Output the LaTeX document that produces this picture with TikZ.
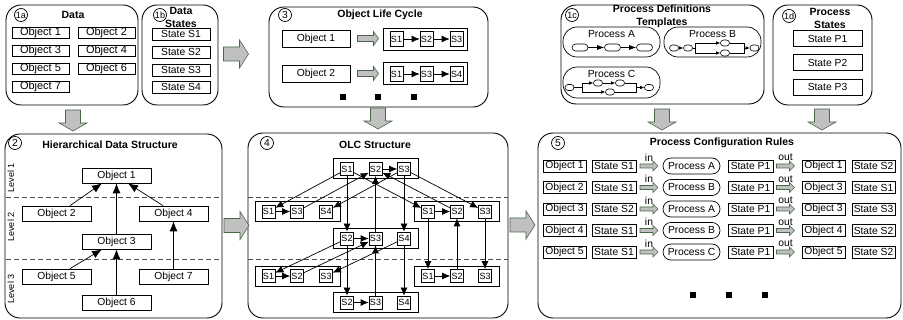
\documentclass[tikz,border=0pt]{standalone}
\usepackage{fontspec}
\setmainfont{Liberation Sans}
\usetikzlibrary{arrows.meta}
\definecolor{garrfill}{RGB}{192,192,192}
\definecolor{garrline}{RGB}{72,104,72}
\newcommand{\txtn}{\fontsize{10.3}{12}\selectfont}
\newcommand{\txtb}{\fontsize{11}{13}\selectfont}
\newcommand{\txts}{\fontsize{9}{10}\selectfont}
\newcommand{\txtt}{\fontsize{10.5}{13}\selectfont\bfseries}

\tikzset{
  garr/.style = {fill=garrfill, draw=garrline, line width=0.6pt},
  bigright/.pic = {\path[garr] (-12,-7) -- (4,-7) -- (4,-14) -- (13,0) -- (4,14) -- (4,7) -- (-12,7) -- cycle;},
  bigdown/.pic = {\path[garr] (-7.5,-11) -- (7.5,-11) -- (7.5,2) -- (14,2) -- (0,10) -- (-14,2) -- (-7.5,2) -- cycle;},
  smallright/.pic = {\path[garr] (-10,-3) -- (6,-3) -- (6,-7) -- (11,0) -- (6,7) -- (6,3) -- (-10,3) -- cycle;},
  tinyright/.pic = {\path[garr] (-9,-2) -- (4,-2) -- (4,-5) -- (9,0) -- (4,5) -- (4,2) -- (-9,2) -- cycle;}
}

\begin{document}
\begin{tikzpicture}[x=1pt, y=-1pt, line width=0.7pt,
    panel/.style = {draw, line width=0.9pt, rounded corners=15pt, inner sep=0pt},
    ttl/.style = {font=\txtt, align=center, inner sep=0pt},
    numc/.style = {draw, circle, inner sep=0pt, minimum size=13pt, font=\txtn},
    obj/.style = {draw, inner sep=0pt, minimum height=12pt, font=\txtn},
    sbox/.style = {draw, inner sep=0pt, minimum width=13pt, minimum height=13pt, font=\txts},
    grp/.style = {draw, inner sep=0pt, minimum width=85pt, minimum height=20pt},
    pill/.style = {draw, inner sep=0pt, rounded corners=8pt, minimum width=57pt, minimum height=16pt, font=\txtn},
    tmpl/.style = {draw, inner sep=0pt, rounded corners=14pt, minimum width=97pt, minimum height=30pt},
    ovl/.style = {draw, line width=0.6pt, inner sep=0pt, rounded corners=3.5pt, minimum width=16pt, minimum height=7pt},
    ovs/.style = {draw, line width=0.6pt, inner sep=0pt, rounded corners=3pt, minimum width=9pt, minimum height=6pt},
    lbl/.style = {inner sep=0pt, font=\txtn},
    sqdot/.style = {fill, inner sep=0pt, minimum size=6pt},
    levelline/.style = {draw=black!70, dash pattern=on 5pt off 3pt},
    arrhds/.style = {-{Latex[length=10pt,width=8pt]}},
    arrolc/.style = {-{Latex[length=8pt,width=7pt]}},
    arrtpl/.style = {-{Latex[length=4pt,width=3.5pt]}, line width=0.6pt}]
\useasboundingbox (0,0) rectangle (903,320);

% 1a data
\node[panel, minimum width=132pt, minimum height=100pt] (p1a) at (72,55) {};
\node[numc, font=\txts] (n1a) at (21,15) {1a};
\node[ttl] (t1a) at (73,15) {Data};
\node[obj, minimum width=57pt, minimum height=11pt, font=\txtb] (d1) at (40.5,33) {Object 1};
\node[obj, minimum width=57pt, minimum height=11pt, font=\txtb] (d2) at (106.5,33) {Object 2};
\node[obj, minimum width=57pt, minimum height=11pt, font=\txtb] (d3) at (40.5,51) {Object 3};
\node[obj, minimum width=57pt, minimum height=11pt, font=\txtb] (d4) at (106.5,51) {Object 4};
\node[obj, minimum width=57pt, minimum height=11pt, font=\txtb] (d5) at (40.5,69) {Object 5};
\node[obj, minimum width=57pt, minimum height=11pt, font=\txtb] (d6) at (106.5,69) {Object 6};
\node[obj, minimum width=57pt, minimum height=11pt, font=\txtb] (d7) at (40.5,86.5) {Object 7};

% 1b data states
\node[panel, minimum width=76pt, minimum height=100pt] (p1b) at (180,55) {};
\node[numc, font=\txts] (n1b) at (160,15) {1b};
\node[ttl] (t1b) at (181,17.5) {Data\\States};
\node[obj, minimum width=58pt] (ds1) at (181,34) {State S1};
\node[obj, minimum width=58pt] (ds2) at (181,52) {State S2};
\node[obj, minimum width=58pt] (ds3) at (181,70) {State S3};
\node[obj, minimum width=58pt] (ds4) at (181,87) {State S4};

% 3 object life cycle
\node[panel, minimum width=219pt, minimum height=100pt] (p3) at (378.5,57) {};
\node[numc] (n3) at (285,15) {3};
\node[ttl] (t3) at (380,15) {Object Life Cycle};
\node[obj, minimum width=68pt, minimum height=17pt] (lc1) at (316,38.5) {Object 1};
\node[obj, minimum width=68pt, minimum height=17pt] (lc2) at (316,73.5) {Object 2};
\pic at (367.5,38.5) {smallright};
\pic at (367.5,73.5) {smallright};
\node[grp, minimum width=84pt, minimum height=22pt] (ch1) at (425,39) {};
\node[sbox, minimum height=15pt] (ch1a) at (396.5,39) {S1};
\node[sbox, minimum height=15pt] (ch1b) at (426.5,39) {S2};
\node[sbox, minimum height=15pt] (ch1c) at (456.5,39) {S3};
\node[grp, minimum width=84pt, minimum height=22pt] (ch2) at (425,73.5) {};
\node[sbox, minimum height=15pt] (ch2a) at (396.5,74) {S1};
\node[sbox, minimum height=15pt] (ch2b) at (426.5,74) {S3};
\node[sbox, minimum height=15pt] (ch2c) at (456.5,74) {S4};
\path[arrolc] (ch1a) edge (ch1b) (ch1b) edge (ch1c)
              (ch2a) edge (ch2b) (ch2b) edge (ch2c);
\node[sqdot] (q1) at (343,97) {};
\node[sqdot] (q2) at (378,97) {};
\node[sqdot] (q3) at (414,97) {};

% 1c process definitions
\node[panel, minimum width=203pt, minimum height=99pt] (p1c) at (662.5,54.5) {};
\node[numc, font=\txts] (n1c) at (572,15) {1c};
\node[ttl] (t1c) at (662,16.5) {Process Definitions\\Templates};
\node[tmpl] (pa) at (611.5,42) {};
\node[lbl] (pat) at (611.5,34) {Process A};
\node[ovl] (pa1) at (580,47.5) {};
\node[ovl] (pa2) at (612.5,47.5) {};
\node[ovl] (pa3) at (644.5,47.5) {};
\path[-{Latex[length=7pt,width=5pt]}, line width=0.6pt] (pa1) edge (pa2) (pa2) edge (pa3);

\node[tmpl] (pb) at (712.5,42) {};
\node[lbl] (pbt) at (712.5,34) {Process B};
\node[ovs] (pb1) at (674,48) {};
\node[ovs] (pb2) at (688,48) {};
\node[ovs] (pb3) at (725,43) {};
\node[ovs] (pb4) at (725,53) {};
\node[ovs] (pb5) at (754.5,48) {};
\coordinate (bsplit) at (695,48);
\coordinate (bjoin) at (744,48);
\path[arrtpl] (pb1) edge (pb2);
\draw[line width=0.6pt] (pb2) -- (bsplit) (bsplit |- pb3) -- (bsplit |- pb4);
\path[arrtpl] (bsplit |- pb3) edge (pb3) (bsplit |- pb4) edge (pb4);
\draw[line width=0.6pt] (pb3) -- (bjoin |- pb3) -- (bjoin |- pb4) -- (pb4);
\path[arrtpl] (bjoin) edge (pb5);

\node[tmpl, minimum height=31pt] (pc) at (611.5,82.5) {};
\node[lbl] (pct) at (611.5,74) {Process C};
\node[ovs] (pc1) at (569.5,87.5) {};
\node[ovs] (pc2) at (598,83) {};
\node[ovs] (pc3) at (620,83) {};
\node[ovs] (pc4) at (610,92) {};
\node[ovs] (pc5) at (649,87.5) {};
\coordinate (csplit) at (582,87.5);
\coordinate (cjoin) at (636,87.5);
\draw[line width=0.6pt] (pc1) -- (csplit) (csplit |- pc2) -- (csplit |- pc4);
\path[arrtpl] (csplit |- pc2) edge (pc2) (pc2) edge (pc3) (csplit |- pc4) edge (pc4);
\draw[line width=0.6pt] (pc3) -- (cjoin |- pc3) -- (cjoin |- pc4) -- (pc4);
\path[arrtpl] (cjoin) edge (pc5);

% 1d process states
\node[panel, minimum width=99pt, minimum height=100pt] (p1d) at (822.5,55) {};
\node[numc, font=\txts] (n1d) at (789,16) {1d};
\node[ttl] (t1d) at (830,18) {Process\\States};
\node[obj, minimum width=69pt, minimum height=16pt] (ps1) at (827.5,38.5) {State P1};
\node[obj, minimum width=69pt, minimum height=16pt] (ps2) at (827.5,62.5) {State P2};
\node[obj, minimum width=69pt, minimum height=16pt] (ps3) at (827.5,87) {State P3};

% 2 hierarchical data structure
\node[panel, minimum width=217pt, minimum height=184pt] (p2) at (113.5,226) {};
\node[numc] (n2) at (15,143) {2};
\node[ttl] (t2) at (110,145) {Hierarchical Data Structure};
\draw[levelline] (6,197) -- (222,197);
\draw[levelline] (6,259) -- (222,259);
\node[lbl, font=\txts, rotate=90] (lv1) at (11,177.5) {Level 1};
\node[lbl, font=\txts, rotate=90] (lv2) at (11,227) {Level 2};
\node[lbl, font=\txts, rotate=90] (lv3) at (11,289) {Level 3};
\node[obj, minimum width=69pt, minimum height=15pt] (h1) at (116.5,175.5) {Object 1};
\node[obj, minimum width=69pt, minimum height=15pt] (h2) at (56.5,213.5) {Object 2};
\node[obj, minimum width=69pt, minimum height=15pt] (h4) at (173.5,213.5) {Object 4};
\node[obj, minimum width=69pt, minimum height=15pt] (h3) at (116.5,241.5) {Object 3};
\node[obj, minimum width=69pt, minimum height=15pt] (h5) at (56.5,276.5) {Object 5};
\node[obj, minimum width=69pt, minimum height=15pt] (h7) at (173.5,276.5) {Object 7};
\node[obj, minimum width=69pt, minimum height=15pt] (h6) at (116.5,302.5) {Object 6};
\path[arrhds] ([xshift=13.5pt]h2.north) edge ([xshift=-14.5pt]h1.south)
              (h3) edge (h1)
              ([xshift=-10.5pt]h4.north) edge ([xshift=11.5pt]h1.south)
              ([xshift=13.5pt]h5.north) edge ([xshift=-14.5pt]h3.south)
              (h6) edge (h3)
              (h7) edge (h4);

% 4 olc structure
\node[panel, minimum width=260pt, minimum height=185pt] (p4) at (378,225.5) {};
\node[numc] (n4) at (267,143) {4};
\node[ttl] (t4) at (375,145) {OLC Structure};
\draw[levelline] (248,197) -- (508,197);
\draw[levelline] (248,259) -- (508,259);
\node[grp] (g1) at (375.5,168) {};
\node[sbox] (g1s1) at (347,169) {S1};
\node[sbox] (g1s2) at (375.5,169) {S2};
\node[sbox] (g1s3) at (404,169) {S3};
\node[grp] (g2) at (297.5,211.5) {};
\node[sbox] (g2s1) at (268.5,211.5) {S1};
\node[sbox] (g2s3) at (297,211.5) {S3};
\node[sbox] (g2s4) at (326,211.5) {S4};
\node[grp] (g3) at (456.5,211.5) {};
\node[sbox] (g3s1) at (428,211.5) {S1};
\node[sbox] (g3s2) at (457,211.5) {S2};
\node[sbox] (g3s3) at (485,211.5) {S3};
\node[grp] (g4) at (375.5,238.5) {};
\node[sbox] (g4s2) at (347,238.5) {S2};
\node[sbox] (g4s3) at (375.5,238.5) {S3};
\node[sbox] (g4s4) at (404,238.5) {S4};
\node[grp] (g5) at (297.5,276) {};
\node[sbox] (g5s1) at (268.5,276) {S1};
\node[sbox] (g5s2) at (297,276) {S2};
\node[sbox] (g5s3) at (326,276) {S3};
\node[grp] (g6) at (456.5,276) {};
\node[sbox] (g6s1) at (428,276) {S1};
\node[sbox] (g6s2) at (457,276) {S2};
\node[sbox] (g6s3) at (485,276) {S3};
\node[grp] (g7) at (375.5,302.5) {};
\node[sbox] (g7s2) at (347,302.5) {S2};
\node[sbox] (g7s3) at (375.5,302.5) {S3};
\node[sbox] (g7s4) at (404,302.5) {S4};
\path[arrolc] (g1s2) edge (g1s3) (g2s1) edge (g2s3) (g3s1) edge (g3s2)
              (g4s2) edge (g4s3) (g5s1) edge (g5s2) (g6s1) edge (g6s2)
              (g7s2) edge (g7s3);
\path[arrolc] (g1s1) edge (g2s1) (g2s3) edge (g1s2) (g1s3) edge (g2s4)
              (g1s1) edge (g3s1) (g3s2) edge (g1s2) (g1s3) edge (g3s3)
              (g1s1) edge (g4s2) (g1s3) edge (g4s4) (g4s3) edge (g1s2)
              (g3s1) edge (g6s1) (g6s2) edge (g3s2) (g3s3) edge (g6s3)
              (g4s2) edge (g5s1) (g5s2) edge (g4s3) (g4s4) edge (g5s3)
              (g4s2) edge (g7s2) (g7s3) edge (g4s3) (g4s4) edge (g7s4);

% 5 process configuration rules
\node[panel, minimum width=363pt, minimum height=185pt] (p5) at (719.5,225.5) {};
\node[numc] (n5) at (558,143) {5};
\node[ttl] (t5) at (722,143) {Process Configuration Rules};
\foreach \r/\oa/\sa/\pr/\ob/\sb in {1/1/S1/A/1/S2, 2/2/S1/B/3/S1, 3/3/S2/A/3/S3, 4/4/S1/B/4/S2, 5/5/S1/C/5/S2}{
  \pgfmathsetmacro{\ry}{144.5+21.5*\r}
  \node[obj, minimum width=43pt] (ro\r) at (564.5,\ry) {Object \oa};
  \node[obj, minimum width=44pt] (rs\r) at (614,\ry) {State \sa};
  \pic at (649,\ry) {tinyright};
  \node[lbl] (rin\r) at (649,\ry-8.5) {in};
  \node[pill] (rp\r) at (691.5,\ry) {Process \pr};
  \node[obj, minimum width=45pt] (rq\r) at (750.5,\ry) {State P1};
  \pic at (785.5,\ry) {tinyright};
  \node[lbl] (rout\r) at (785.5,\ry-8.5) {out};
  \node[obj, minimum width=43pt] (rn\r) at (823.5,\ry) {Object \ob};
  \node[obj, minimum width=43pt] (rt\r) at (873.5,\ry) {State \sb};
}
\node[sqdot] (q4) at (693,295.5) {};
\node[sqdot] (q5) at (728.5,295.5) {};
\node[sqdot] (q6) at (764.5,295.5) {};

% flow between the panels
\pic at (235.5,54) {bigright};
\pic at (73,121) {bigdown};
\pic at (378,119) {bigdown};
\pic at (662,120) {bigdown};
\pic at (822,120) {bigdown};
\pic at (236,225.5) {bigright};
\pic at (522,225) {bigright};
\end{tikzpicture}
\end{document}
